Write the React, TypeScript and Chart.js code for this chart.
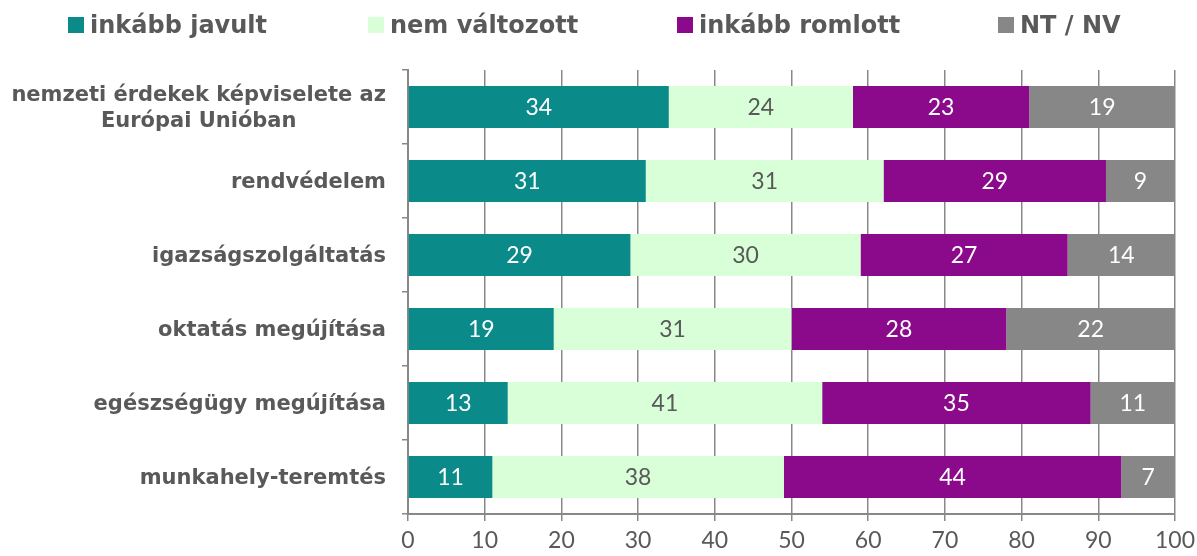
import React, { useEffect, useRef } from "react";
import { Chart, registerables } from "chart.js";

Chart.register(...registerables);

const categories: (string | string[])[] = [
  ["nemzeti érdekek képviselete az", "Európai Unióban"],
  "rendvédelem",
  "igazságszolgáltatás",
  "oktatás megújítása",
  "egészségügy megújítása",
  "munkahely-teremtés",
];
const seriesNames = ["inkább javult", "nem változott", "inkább romlott", "NT / NV"];
const improved = [34, 31, 29, 19, 13, 11];
const unchanged = [24, 31, 30, 31, 41, 38];
const worse = [23, 29, 27, 28, 35, 44];
const noAnswer = [19, 9, 14, 22, 11, 7];
const xTicks = [0, 10, 20, 30, 40, 50, 60, 70, 80, 90, 100];

const colors = ["#0b8a8a", "#d9ffd9", "#8b0a8b", "#878787"];
const labelColors = ["#ffffff", "#595959", "#ffffff", "#ffffff"];
const TEXT = "#595959";
const GRID = "#888888";
const LABEL_FONT = "'DejaVu Sans', sans-serif";
const NUM_FONT = "Lato, sans-serif";

const valueLabels = {
  id: "valueLabels",
  afterDatasetsDraw(chart: any) {
    const ctx = chart.ctx;
    ctx.save();
    ctx.font = `23px ${NUM_FONT}`;
    ctx.textAlign = "center";
    ctx.textBaseline = "middle";
    chart.data.datasets.forEach((ds: any, i: number) => {
      const meta = chart.getDatasetMeta(i);
      meta.data.forEach((el: any, j: number) => {
        const v = ds.data[j];
        ctx.fillStyle = labelColors[i];
        ctx.fillText(String(v), (el.x + el.base) / 2, el.y + 1);
      });
    });
    ctx.restore();
  },
};

const yLabels = {
  id: "yLabels",
  afterDraw(chart: any) {
    const ctx = chart.ctx;
    const yScale = chart.scales.y;
    const right = chart.chartArea.left - 22;
    ctx.save();
    ctx.font = `bold 21px ${LABEL_FONT}`;
    ctx.fillStyle = TEXT;
    ctx.textAlign = "center";
    ctx.textBaseline = "middle";
    categories.forEach((c, i) => {
      const lines = Array.isArray(c) ? c : [c];
      const maxW = Math.max(...lines.map((l) => ctx.measureText(l).width));
      const cx = right - maxW / 2;
      const y = yScale.getPixelForValue(i) + 2;
      const lh = 26;
      lines.forEach((l, k) => {
        ctx.fillText(l, cx, y + (k - (lines.length - 1) / 2) * lh);
      });
    });
    ctx.restore();
  },
};

export default function App() {
  const ref = useRef<HTMLCanvasElement>(null);
  useEffect(() => {
    document.body.style.margin = "0";
    const chart = new Chart(ref.current!, {
      type: "bar",
      data: {
        labels: categories.map((c) => (Array.isArray(c) ? c.join(" ") : c)),
        datasets: [improved, unchanged, worse, noAnswer].map((d, i) => ({
          label: seriesNames[i],
          data: d,
          backgroundColor: colors[i],
          borderWidth: 0,
          categoryPercentage: 1,
          barPercentage: 0.57,
        })),
      },
      options: {
        indexAxis: "y",
        animation: false,
        responsive: false,
        maintainAspectRatio: false,
        layout: { padding: { top: 70, right: 22, bottom: 0, left: 0 } },
        plugins: { legend: { display: false }, tooltip: { enabled: false } },
        scales: {
          x: {
            stacked: true,
            min: 0,
            max: 100,
            afterBuildTicks: (s: any) => {
              s.ticks = xTicks.map((v) => ({ value: v }));
            },
            afterFit: (s: any) => {
              s.height = 42;
              s.paddingRight = 0;
              s.paddingLeft = 0;
            },
            grid: { color: GRID, lineWidth: 1.5, tickLength: 7 },
            border: { color: GRID, width: 2 },
            ticks: { color: TEXT, font: { family: NUM_FONT, size: 23 }, padding: 6 },
          },
          y: {
            stacked: true,
            afterFit: (s: any) => {
              s.width = 408;
            },
            grid: { drawOnChartArea: false, color: GRID, lineWidth: 1.5, tickLength: 6, offset: true },
            border: { color: GRID, width: 2 },
            ticks: { display: false },
          },
        },
      },
      plugins: [valueLabels, yLabels],
    });
    return () => chart.destroy();
  }, []);

  const legendLefts = [68, 368, 677, 998];
  return (
    <div style={{ position: "relative", width: 1197, height: 556 }}>
      <canvas ref={ref} width={1197} height={556} style={{ display: "block" }} />
      {seriesNames.map((n, i) => (
        <div
          key={n}
          style={{
            position: "absolute",
            top: 8,
            left: legendLefts[i],
            height: 34,
            display: "flex",
            alignItems: "center",
            fontFamily: LABEL_FONT,
            fontWeight: "bold",
            fontSize: 24,
            lineHeight: "34px",
            color: TEXT,
            whiteSpace: "nowrap",
          }}
        >
          <span style={{ width: 16, height: 16, background: colors[i], display: "inline-block", marginRight: 6 }} />
          <span>{n}</span>
        </div>
      ))}
    </div>
  );
}
